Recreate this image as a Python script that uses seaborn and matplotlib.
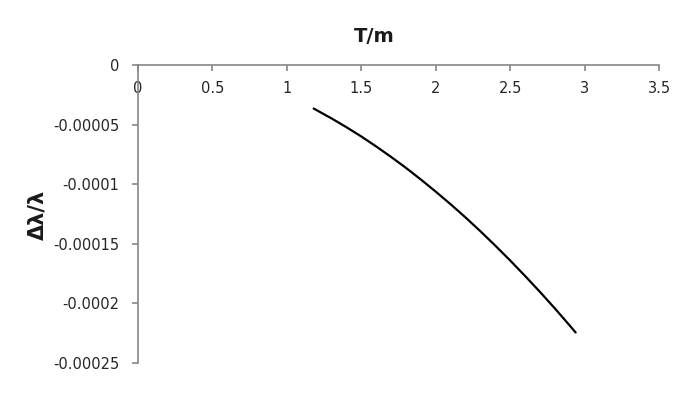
import matplotlib
matplotlib.use("Agg")
import matplotlib.pyplot as plt
import seaborn as sns
import pandas as pd

# Data (curve read at regular T/m steps)
T_over_m = [1.18, 1.30, 1.40, 1.50, 1.60, 1.70, 1.80, 1.90, 2.00, 2.10,
            2.20, 2.30, 2.40, 2.50, 2.60, 2.70, 2.80, 2.90, 2.94]
dlam_over_lam = [-3.62e-5, -4.45e-5, -5.19e-5, -5.97e-5, -6.81e-5, -7.69e-5,
                 -8.61e-5, -9.59e-5, -1.061e-4, -1.167e-4, -1.278e-4, -1.394e-4,
                 -1.515e-4, -1.640e-4, -1.770e-4, -1.904e-4, -2.043e-4, -2.187e-4,
                 -2.246e-4]

x_ticks = [0, 0.5, 1, 1.5, 2, 2.5, 3, 3.5]
x_tick_labels = ["0", "0.5", "1", "1.5", "2", "2.5", "3", "3.5"]
y_ticks = [0, -0.00005, -0.0001, -0.00015, -0.0002, -0.00025]
y_tick_labels = ["0", "-0.00005", "-0.0001", "-0.00015", "-0.0002", "-0.00025"]

sns.set_style("white")
plt.rcParams["font.family"] = ["DejaVu Sans"]

df = pd.DataFrame({"T/m": T_over_m, "dl": dlam_over_lam})

fig = plt.figure(figsize=(6.91, 4.01), dpi=100)
ax = fig.add_axes([0.1997, 0.0955, 0.754, 0.7412])

sns.lineplot(data=df, x="T/m", y="dl", ax=ax, color="black", linewidth=1.6, sort=True)

ax.set_xlim(0, 3.5)
ax.set_ylim(-0.00025, 0)
ax.set_xlabel("")
ax.set_ylabel("")

ax.set_xticks(x_ticks)
ax.set_xticklabels(x_tick_labels)
ax.set_yticks(y_ticks)
ax.set_yticklabels(y_tick_labels)

spine_color = "#868686"
ax.spines["right"].set_visible(False)
ax.spines["top"].set_visible(False)
ax.spines["bottom"].set_position(("axes", 1.0))
ax.spines["bottom"].set_color(spine_color)
ax.spines["left"].set_color(spine_color)
ax.spines["bottom"].set_linewidth(1.2)
ax.spines["left"].set_linewidth(1.2)

ax.tick_params(axis="x", direction="out", length=4.5, width=1.2, color=spine_color,
               labelsize=10.5, labelcolor="#262626", pad=6.5, bottom=True)
ax.tick_params(axis="y", direction="out", length=4.5, width=1.2, color=spine_color,
               labelsize=10.5, labelcolor="#262626", pad=9, left=True)

fig.text(0.541, 0.908, "T/m", ha="center", va="center", fontsize=14, fontweight="bold", color="#1a1a1a")
fig.text(0.0535, 0.464, "Δλ/λ", ha="center", va="center", rotation=90, fontsize=15,
         fontweight="bold", color="#1a1a1a")

fig.savefig("out.png", dpi=100)
